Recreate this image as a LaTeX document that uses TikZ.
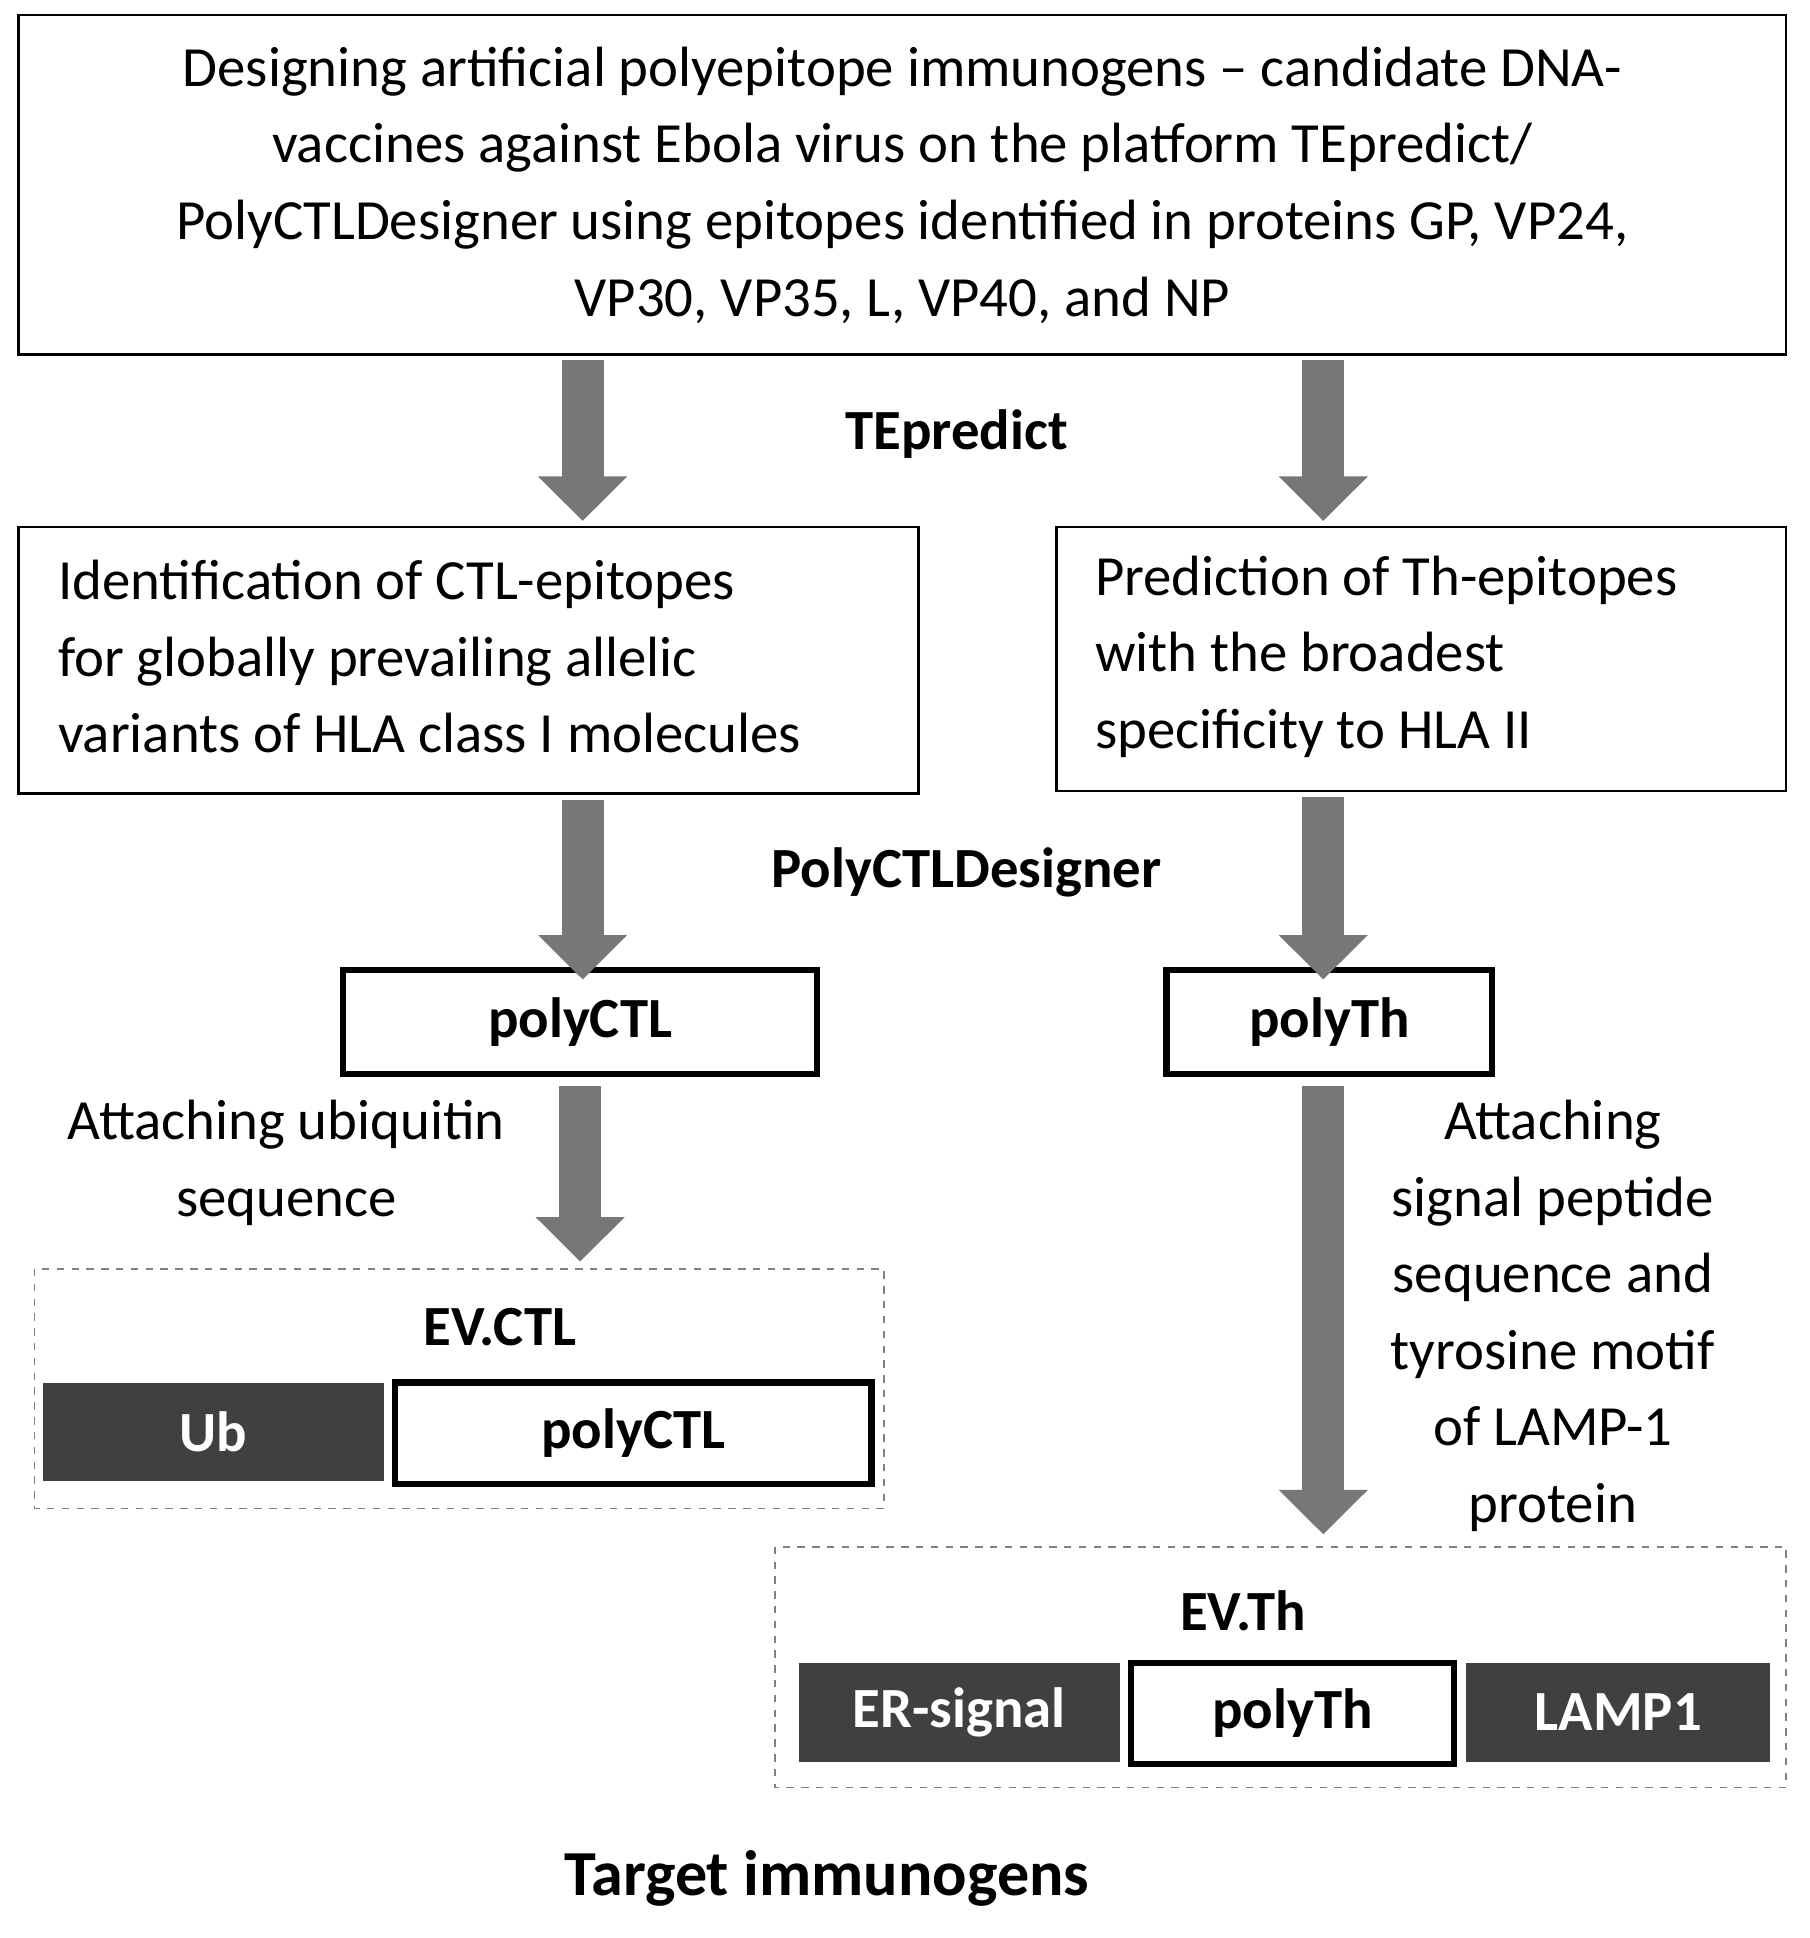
\documentclass[tikz,border=0pt]{standalone}
\usepackage{fontspec}
\setmainfont{Carlito}
\usetikzlibrary{arrows.meta}
\definecolor{ag}{HTML}{777777}
\definecolor{dk}{HTML}{404040}
\begin{document}
\begin{tikzpicture}[x=0.5pt,y=-0.5pt,
  txt/.style={font=\fontsize{23}{31}\selectfont},
  box/.style={draw,line width=1pt,inner sep=0pt},
  pbox/.style={draw,line width=2.5pt,inner sep=0pt,font=\fontsize{23}{31}\selectfont\bfseries},
  dbox/.style={fill=dk,inner sep=0pt,text=white,font=\fontsize{23}{31}\selectfont\bfseries},
  dbord/.style={draw=gray,dashed,line width=0.7pt},
  bar/.style={draw=ag,line width=17pt,-{Triangle[width=35pt,length=18pt]}},
  lbl/.style={font=\fontsize{23}{31}\selectfont\bfseries}]
\useasboundingbox (0,0) rectangle (1466,1570);
% top box
\draw[box] (15,12) rectangle (1447,287);
\node[txt,align=center] (top) at (731,150) {Designing artificial polyepitope immunogens -- candidate DNA-\\vaccines against Ebola virus on the platform TEpredict/\\PolyCTLDesigner using epitopes identified in proteins GP, VP24,\\VP30, VP35, L, VP40, and NP};
% level 2 boxes
\draw[box] (15,427) rectangle (744,643);
\node[txt,align=left,anchor=west] (ctl) at (40,532) {Identification of CTL-epitopes\\for globally prevailing allelic\\variants of HLA class I molecules};
\draw[box] (856,427) rectangle (1447,641);
\node[txt,align=left,anchor=west] (th) at (880,532) {Prediction of Th-epitopes\\with the broadest\\specificity to HLA II};
\coordinate (a1s) at (472,292); \coordinate (a1e) at (472,422);
\coordinate (a2s) at (1072,292); \coordinate (a2e) at (1072,422);
\draw[bar] (a1s) -- (a1e);
\draw[bar] (a2s) -- (a2e);
\node[lbl] (tep) at (775,352) {TEpredict};
% poly boxes
\node[pbox,minimum width=192pt,minimum height=42pt] (pctl) at (470,828) {polyCTL};
\node[pbox,minimum width=132pt,minimum height=42pt] (pth) at (1077,828) {polyTh};
\coordinate (b1s) at (472,648); \coordinate (b2s) at (1072,646);
\draw[bar] (b1s) -- ([yshift=-5pt]pctl.north -| b1s);
\draw[bar] (b2s) -- ([yshift=-5pt]pth.north -| b2s);
\node[lbl] (pcd) at (783,707) {PolyCTLDesigner};
% EV.CTL
\draw[dbord] (28,1028) rectangle (716,1222);
\node[lbl] (evctl) at (405,1075) {EV.CTL};
\node[dbox,minimum width=138pt,minimum height=40pt] (ub) at (173,1160) {Ub};
\node[pbox,minimum width=193pt,minimum height=41pt] (pctl2) at (513,1161) {polyCTL};
\coordinate (c1s) at (470,880); \coordinate (c1e) at (470,1022);
\draw[bar] (c1s) -- (c1e);
\node[txt,align=center] (att1) at (232,942) {Attaching ubiquitin\\sequence};
% EV.Th
\draw[dbord] (628,1253) rectangle (1447,1448);
\node[lbl] (evth) at (1007,1305) {EV.Th};
\node[dbox,minimum width=130pt,minimum height=40pt] (er) at (777,1387) {ER-signal};
\node[pbox,minimum width=131pt,minimum height=41pt] (pth2) at (1047,1388) {polyTh};
\node[dbox,minimum width=123pt,minimum height=40pt] (lamp) at (1311,1387) {LAMP1};
\coordinate (c2s) at (1072,880); \coordinate (c2e) at (1072,1243);
\draw[bar] (c2s) -- (c2e);
\node[txt,align=center] (att2) at (1258,1066) {Attaching\\signal peptide\\sequence and\\tyrosine motif\\of LAMP-1\\protein};
\node[font=\fontsize{26}{31}\selectfont\bfseries] (tgt) at (670,1522) {Target immunogens};
\end{tikzpicture}
\end{document}
